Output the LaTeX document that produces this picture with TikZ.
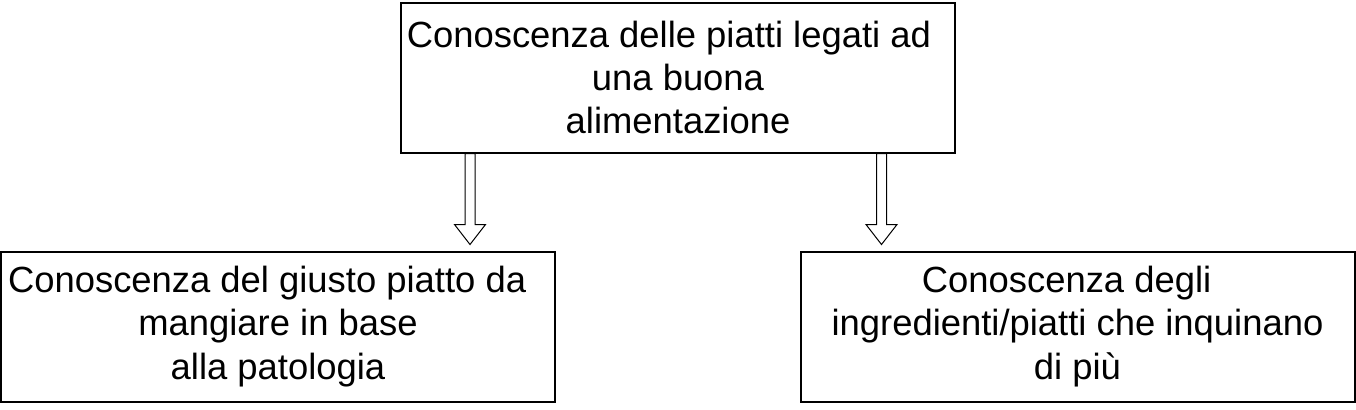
\documentclass[tikz,border=0pt]{standalone}
\usepackage{fontspec}
\setmainfont{Liberation Sans}
\usetikzlibrary{calc}

\tikzset{
  box/.style={draw, line width=1pt, minimum width=277pt, minimum height=75pt,
    inner sep=0pt, align=center, font=\fontsize{18.2}{21.6}\selectfont},
  hollow/.style={draw, line width=0.5pt, fill=white}
}
% block arrow from #1 down to its tip #2
\newcommand{\blockarrow}[2]{%
  \draw[hollow] ($(#1)+(-5,0)$) -- ($(#2)+(-5,-20)$) -- ($(#2)+(-15.5,-20)$)
    -- (#2) -- ($(#2)+(15.5,-20)$) -- ($(#2)+(5,-20)$) -- ($(#1)+(5,0)$) -- cycle;}

\begin{document}
\begin{tikzpicture}[x=0.5pt, y=-0.5pt]
  \useasboundingbox (0,0) rectangle (1356,409);

  \node[box] (goal) at (678,77.5)
    {Conoscenza delle piatti legati ad\hspace*{0.5em}\\ una buona\\ alimentazione};
  \node[box] (diet) at (278,326.5)
    {Conoscenza del giusto piatto da\hspace*{0.6em}\\ mangiare in base\\ alla patologia};
  \node[box] (pollute) at (1077.5,326.5)
    {Conoscenza degli\hspace*{0.6em}\\ ingredienti/piatti che inquinano\\ di più};

  \coordinate (ls) at ($(goal.south west)+(70,0)$);
  \coordinate (lt) at ($(ls |- diet.north)+(0,-6)$);
  \coordinate (rs) at ($(goal.south east)+(-74.5,0)$);
  \coordinate (rt) at ($(rs |- pollute.north)+(0,-6)$);
  \blockarrow{ls}{lt}
  \blockarrow{rs}{rt}
\end{tikzpicture}
\end{document}
